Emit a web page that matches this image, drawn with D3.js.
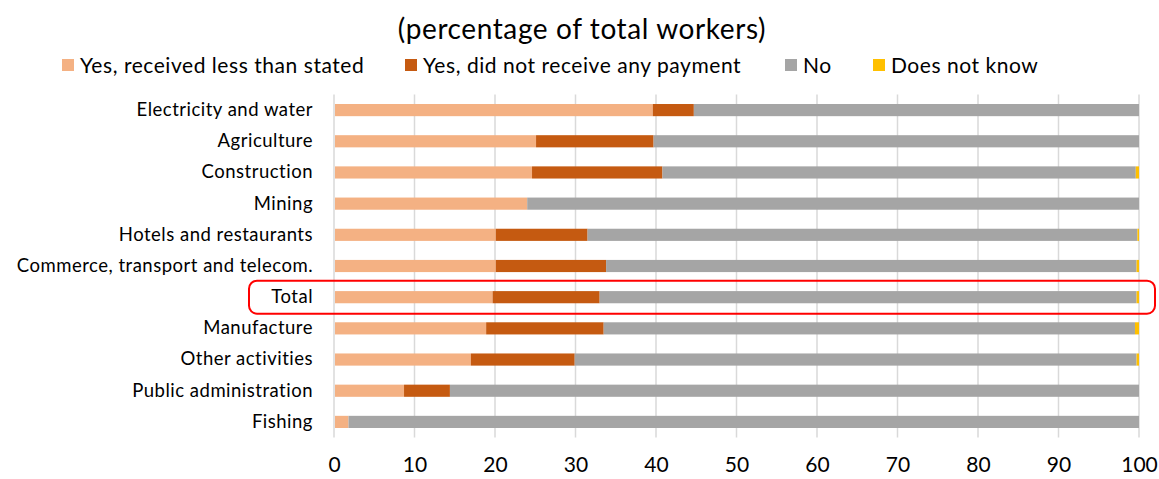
<!DOCTYPE html>
<html>
<head>
<meta charset="utf-8">
<script src="https://cdn.jsdelivr.net/npm/d3@7"></script>
<style>
  html, body { margin: 0; padding: 0; background: #fff; }
  svg text { font-family: Lato, "Open Sans", sans-serif; fill: #000; }
</style>
</head>
<body>
<svg id="chart" width="1159" height="479"></svg>
<script>
// Sectors, top to bottom
const categories = [
  "Electricity and water", "Agriculture", "Construction", "Mining",
  "Hotels and restaurants", "Commerce, transport and telecom.", "Total",
  "Manufacture", "Other activities", "Public administration", "Fishing"
];
const seriesNames = ["Yes, received less than stated", "Yes, did not receive any payment", "No", "Does not know"];
const lessThanStated = [39.6, 25.1, 24.6, 24.0, 20.1, 20.1, 19.7, 18.9, 17.0, 8.7, 1.8];
const noPayment      = [5.1, 14.6, 16.2, 0.0, 11.4, 13.7, 13.3, 14.6, 12.9, 5.7, 0.0];
const doesNotKnow    = [0.0, 0.0, 0.4, 0.0, 0.2, 0.3, 0.3, 0.5, 0.3, 0.0, 0.0];
const notAffected    = categories.map((c, i) => +(100 - lessThanStated[i] - noPayment[i] - doesNotKnow[i]).toFixed(1));
const xTicks = [0, 10, 20, 30, 40, 50, 60, 70, 80, 90, 100];
const highlighted = "Total";

const colors = ["#F4B183", "#C55A11", "#A5A5A5", "#FFC000"];

const rows = categories.map((c, i) => ({
  category: c,
  s0: lessThanStated[i], s1: noPayment[i], s2: notAffected[i], s3: doesNotKnow[i]
}));

const svg = d3.select("#chart");
const margin = { left: 334, right: 20, top: 94.5, bottom: 41.5 };
const W = 1159, H = 479;

const x = d3.scaleLinear().domain([0, 100]).range([margin.left, 1139]);
const y = d3.scaleBand().domain(categories).range([margin.top, H - margin.bottom]).paddingInner(0.61).paddingOuter(0.305);

// Title
svg.append("text").attr("x", 582).attr("y", 39).attr("text-anchor", "middle")
  .style("font-size", "28px").style("letter-spacing", "0.6px").text("(percentage of total workers)");

// Legend
const legendX = [62, 405, 785, 873];
seriesNames.forEach((name, i) => {
  svg.append("rect").attr("x", legendX[i]).attr("y", 59).attr("width", 12).attr("height", 12).attr("fill", colors[i]);
  svg.append("text").attr("x", legendX[i] + 18).attr("y", 73)
    .style("font-size", "21px").style("letter-spacing", "0.55px").text(name);
});

// Vertical gridlines
svg.append("g").selectAll("line").data(xTicks).join("line")
  .attr("x1", d => x(d)).attr("x2", d => x(d))
  .attr("y1", margin.top).attr("y2", H - margin.bottom)
  .attr("stroke", "#d9d9d9").attr("stroke-width", 1.5);

// Stacked bars
const stack = d3.stack().keys(["s0", "s1", "s2", "s3"])(rows);
svg.append("g").selectAll("g").data(stack).join("g")
  .attr("fill", (d, i) => colors[i])
  .selectAll("rect").data(d => d).join("rect")
  .attr("x", d => x(d[0]) + (d[0] === 0 ? 1 : 0))
  .attr("width", d => Math.max(0, x(d[1]) - x(d[0]) - (d[0] === 0 ? 1 : 0)))
  .attr("y", d => y(d.data.category))
  .attr("height", y.bandwidth());

// Category labels
const yAxis = d3.axisLeft(y).tickSize(0).tickPadding(0);
const gy = svg.append("g").attr("transform", `translate(313,0)`).call(yAxis);
gy.select(".domain").remove();
gy.selectAll("text").style("font-size", "18.5px").style("letter-spacing", "0.5px")
  .style("font-family", "Lato, sans-serif").attr("fill", "#000");

// X axis labels
const xAxis = d3.axisBottom(x).tickValues(xTicks).tickSize(0).tickPadding(0);
const gx = svg.append("g").attr("transform", `translate(0,${H - 22})`).call(xAxis);
gx.select(".domain").remove();
gx.selectAll("text").style("font-size", "21px").style("font-family", "Lato, sans-serif").attr("fill", "#000");

// Highlight box around the total row
const yc = y(highlighted) + y.bandwidth() / 2;
svg.append("rect").attr("x", 249).attr("y", yc - 16.5).attr("width", 906).attr("height", 33)
  .attr("rx", 8).attr("fill", "none").attr("stroke", "#FF0000").attr("stroke-width", 2);
</script>
</body>
</html>
